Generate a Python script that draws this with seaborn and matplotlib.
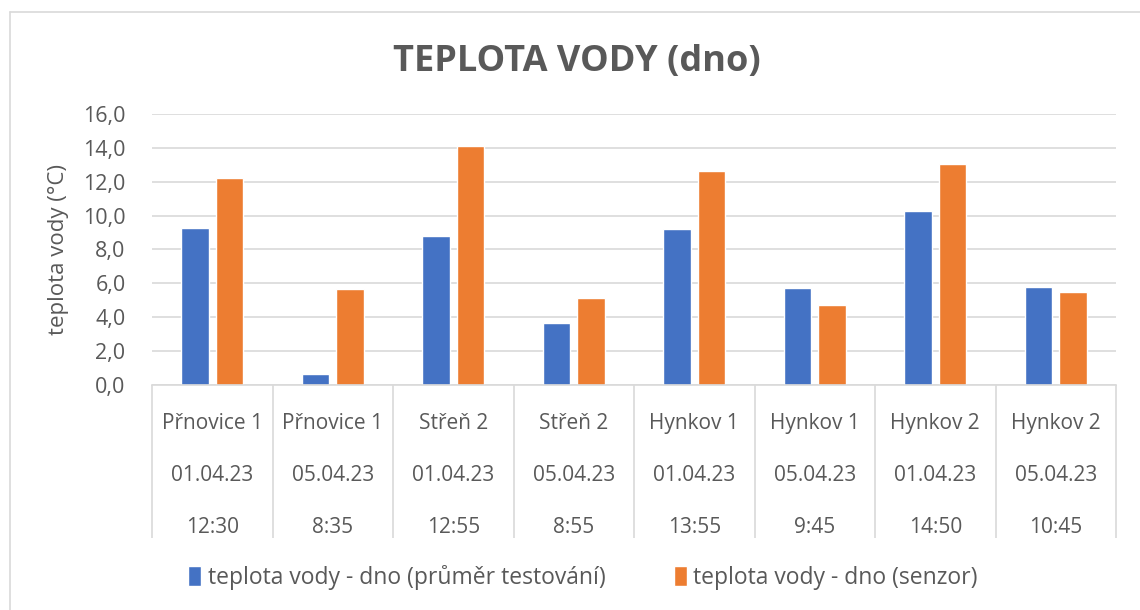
import numpy as np
import pandas as pd
import matplotlib
matplotlib.use("Agg")
import matplotlib.pyplot as plt
from matplotlib.lines import Line2D
from matplotlib.ticker import FuncFormatter
import seaborn as sns

# ---- data ----
sites = ["Přnovice 1", "Přnovice 1", "Střeň 2", "Střeň 2",
         "Hynkov 1", "Hynkov 1", "Hynkov 2", "Hynkov 2"]
dates = ["01.04.23", "05.04.23", "01.04.23", "05.04.23",
         "01.04.23", "05.04.23", "01.04.23", "05.04.23"]
times = ["12:30", "8:35", "12:55", "8:55", "13:55", "9:45", "14:50", "10:45"]
avg_test = [9.25, 0.67, 8.8, 3.65, 9.2, 5.7, 10.3, 5.8]
sensor = [12.25, 5.65, 14.1, 5.15, 12.65, 4.7, 13.05, 5.5]
series_names = ["teplota vody - dno (průměr testování)", "teplota vody - dno (senzor)"]
title = "TEPLOTA VODY (dno)"
ylabel = "teplota vody (°C)"

categories = [f"{s}\n{d}\n{t}" for s, d, t in zip(sites, dates, times)]
df = pd.DataFrame({
    "value": avg_test + sensor,
    "series": [series_names[0]] * len(categories) + [series_names[1]] * len(categories),
})
df["pos"] = list(range(len(categories))) * 2

sns.set_theme(style="white")
plt.rcParams["font.family"] = ["Open Sans", "DejaVu Sans"]
txt = "#595959"
grid_c = "#d9d9d9"

fig = plt.figure(figsize=(11.4, 6.1), dpi=100)
ax = fig.add_axes([152 / 1140, (610 - 385) / 610, (1116 - 152) / 1140, (385 - 114) / 610])

sns.barplot(data=df, x="pos", y="value", hue="series", order=list(range(len(categories))),
            palette=["#4472C4", "#ED7D31"], saturation=1, width=0.57, gap=0.2, ax=ax,
            errorbar=None, legend=True)

ax.set_ylim(0, 16)
ax.set_xlim(-0.5, len(categories) - 0.5)
ax.set_yticks(np.arange(0, 17, 2))
ax.yaxis.set_major_formatter(FuncFormatter(lambda v, p: f"{v:.1f}".replace(".", ",")))
ax.grid(axis="y", color=grid_c, linewidth=1.2)
ax.set_axisbelow(True)
for s in ["top", "right", "left"]:
    ax.spines[s].set_visible(False)
ax.spines["bottom"].set_color(grid_c)
ax.spines["bottom"].set_linewidth(1.2)

ax.set_xticks(range(len(categories)))
ax.set_xticklabels(categories, linespacing=2.95)
ax.set_xticks(np.arange(-0.5, len(categories)), minor=True)
ax.tick_params(axis="x", which="both", bottom=True)
ax.tick_params(axis="x", which="major", length=0, pad=20, labelsize=15, labelcolor=txt)
ax.tick_params(axis="x", which="minor", length=110, width=1.2, color=grid_c)
ax.tick_params(axis="y", length=0, labelsize=15.5, labelcolor=txt, pad=19)
ax.set_xlabel("")
ax.set_ylabel(ylabel, fontsize=16, color=txt, labelpad=10)

leg = ax.legend(loc="center", ncol=2, frameon=False, fontsize=16.5, handlelength=0.55,
                handleheight=0.95, handletextpad=0.3, columnspacing=3.0, labelcolor=txt)
leg.set_bbox_to_anchor((583 / 1140, (610 - 577) / 610), transform=fig.transFigure)

fig.text(577 / 1140, (610 - 62) / 610, title, ha="center", va="center",
         fontsize=26, fontweight="bold", color=txt)

# chart area border (left and top edges visible)
fig.add_artist(Line2D([10 / 1140, 10 / 1140], [0, (610 - 12) / 610], transform=fig.transFigure,
                      color=grid_c, linewidth=1.2))
fig.add_artist(Line2D([10 / 1140, 1], [(610 - 12) / 610, (610 - 12) / 610], transform=fig.transFigure,
                      color=grid_c, linewidth=1.2))

fig.savefig("out.png", dpi=100)
